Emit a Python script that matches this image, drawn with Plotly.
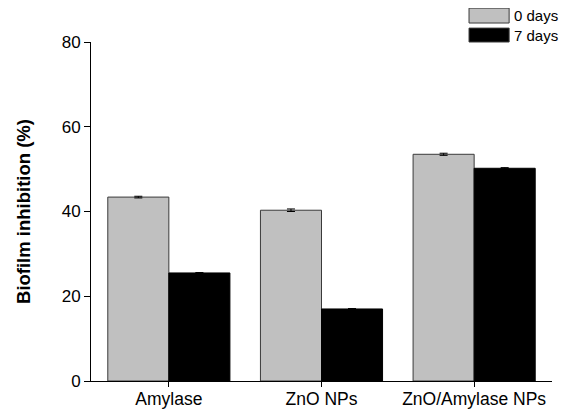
import plotly.graph_objects as go

categories = ["Amylase", "ZnO NPs", "ZnO/Amylase NPs"]
days0 = [43.4, 40.3, 53.5]
days7 = [25.5, 17.0, 50.2]
err0 = [0.2, 0.3, 0.25]
err7 = [0.1, 0.1, 0.15]
series_names = ["0 days", "7 days"]
yticks = [0, 20, 40, 60, 80]

FONT = "Arial, Liberation Sans, sans-serif"

fig = go.Figure()
fig.add_trace(go.Bar(x=categories, y=days0, name=series_names[0],
                     marker=dict(color="#c0c0c0", line=dict(color="#3a3a3a", width=1)),
                     error_y=dict(type="data", array=err0, color="black", thickness=1, width=4),
                     showlegend=False))
fig.add_trace(go.Bar(x=categories, y=days7, name=series_names[1],
                     marker=dict(color="black", line=dict(color="black", width=1)),
                     error_y=dict(type="data", array=err7, color="black", thickness=1, width=4),
                     showlegend=False))

# page body has an 8px margin, so the figure is sized/offset to compensate
fig.update_layout(
    width=559, height=403,
    margin=dict(l=83, r=15, t=34, b=30, autoexpand=False),
    paper_bgcolor="white", plot_bgcolor="white",
    barmode="group", bargap=0.2, bargroupgap=0,
    font=dict(family=FONT, color="black", size=16),
)
fig.update_xaxes(range=[-0.51, 2.51], showline=True, linecolor="black", linewidth=1,
                 ticks="outside", ticklen=5, tickcolor="black", showgrid=False,
                 tickfont=dict(size=17.5, family=FONT), automargin=False,
                 ticklabelstandoff=-3)
fig.update_yaxes(range=[0, 80], tickvals=yticks, showline=True, linecolor="black", linewidth=1,
                 ticks="outside", ticklen=6, tickcolor="black", showgrid=False, zeroline=False,
                 tickfont=dict(size=17, family=FONT), automargin=False,
                 title=dict(text="<b>Biofilm inhibition (%)</b>", font=dict(size=18.5, family=FONT), standoff=26))

# legend drawn manually
colors = ["#c0c0c0", "black"]
ys = [(1.056, 1.100), (1.0, 1.041)]
for name, col, (y0, y1) in zip(series_names, colors, ys):
    fig.add_shape(type="rect", xref="paper", yref="paper", x0=0.820, x1=0.907, y0=y0, y1=y1,
                  fillcolor=col, line=dict(color="#3a3a3a", width=1))
    fig.add_annotation(xref="paper", yref="paper", x=0.913, y=(y0 + y1) / 2, text=name,
                       showarrow=False, xanchor="left", yanchor="middle",
                       font=dict(size=15, family=FONT, color="black"))

fig.write_html("out.html")
